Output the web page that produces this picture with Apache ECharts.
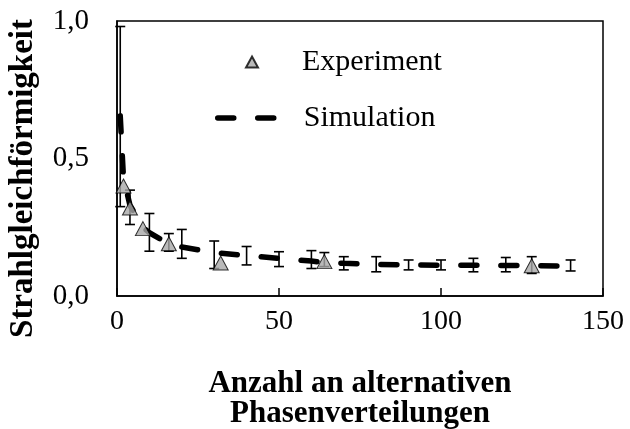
<!DOCTYPE html>
<html>
<head>
<meta charset="utf-8">
<script src="https://cdn.jsdelivr.net/npm/echarts@6/dist/echarts.min.js"></script>
<style>
  html, body { margin: 0; padding: 0; background: #fff; }
  #main { width: 630px; height: 429px; }
</style>
</head>
<body>
<div id="main"></div>
<script>
// experiment (triangles)
var expX = [2, 4, 8, 16, 32, 64, 128];
var expY = [0.40, 0.32, 0.245, 0.19, 0.12, 0.125, 0.11];

// simulation (dashed line)
var simX = [1, 2, 4, 8, 10, 16, 20, 30, 40, 50, 60, 64, 70, 80, 90, 100, 110, 120, 128, 140];
var simY = [0.655, 0.43, 0.33, 0.25, 0.23, 0.19, 0.178, 0.158, 0.147, 0.137, 0.127, 0.122, 0.119, 0.115, 0.113, 0.112, 0.112, 0.111, 0.11, 0.109];

// error bars
var errX = [1, 4, 10, 16, 20, 30, 40, 50, 60, 64, 70, 80, 90, 100, 110, 120, 128, 140];
var errLow = [0.325, 0.26, 0.163, 0.163, 0.137, 0.10, 0.113, 0.107, 0.10, 0.107, 0.095, 0.088, 0.095, 0.095, 0.088, 0.088, 0.082, 0.091];
var errHigh = [0.98, 0.385, 0.30, 0.227, 0.242, 0.20, 0.18, 0.161, 0.165, 0.158, 0.143, 0.143, 0.131, 0.131, 0.137, 0.14, 0.143, 0.131];

var xTicks = [0, 50, 100, 150];
var yTicks = [0, 0.5, 1.0];

var font = "Liberation Serif";

var myChart = echarts.init(document.getElementById("main"));

var option = {
  backgroundColor: "#fff",
  animation: false,
  textStyle: { fontFamily: font, color: "#000" },
  grid: {
    left: 117,
    right: 27,
    top: 21,
    bottom: 133,
    outerBoundsMode: "none",
    containLabel: false,
    show: true,
    borderColor: "#000",
    borderWidth: 1.5,
  },
  legend: [
    {
      data: [{ name: "Experiment", icon: "triangle" }],
      left: 245,
      top: 47,
      padding: 0,
      itemWidth: 12,
      itemHeight: 11,
      selectedMode: false,
      textStyle: { fontFamily: font, fontSize: 30, color: "#000", padding: [0, 0, 0, 39] },
    },
    {
      data: ["Simulation"],
      left: 215,
      top: 103,
      padding: 0,
      itemWidth: 63,
      itemHeight: 14,
      selectedMode: false,
      itemStyle: { opacity: 0 },
      lineStyle: { width: 5.5, type: [16, 24], cap: "round", color: "#000" },
      textStyle: { fontFamily: font, fontSize: 30, color: "#000", padding: [0, 0, 0, 18] },
    },
  ],
  xAxis: {
    type: "value",
    min: xTicks[0],
    max: xTicks[xTicks.length - 1],
    interval: 50,
    name: "Anzahl an alternativen\nPhasenverteilungen",
    nameLocation: "middle",
    nameGap: 73,
    nameTextStyle: { fontFamily: font, fontSize: 31, fontWeight: "bold", color: "#000", lineHeight: 30 },
    axisLine: { lineStyle: { color: "#000", width: 1.5 } },
    axisTick: { inside: true, length: 8, lineStyle: { color: "#000", width: 1.5 } },
    axisLabel: { fontFamily: font, fontSize: 28, color: "#000", margin: 12 },
    splitLine: { show: false },
  },
  yAxis: {
    type: "value",
    min: yTicks[0],
    max: yTicks[yTicks.length - 1],
    interval: 0.5,
    name: "Strahlgleichförmigkeit",
    nameLocation: "middle",
    nameRotate: 90,
    nameGap: 77,
    nameTextStyle: { fontFamily: font, fontSize: 33, fontWeight: "bold", color: "#000", padding: [0, 40, 0, 0] },
    axisLine: { show: true, lineStyle: { color: "#000", width: 1.5 } },
    axisTick: { show: false },
    axisLabel: {
      fontFamily: font,
      fontSize: 29,
      color: "#000",
      margin: 28,
      padding: [6, 0, 0, 0],
      formatter: function (v) {
        return v.toFixed(1).replace(".", ",");
      },
    },
    splitLine: { show: false },
  },
  series: [
    {
      type: "custom",
      z: 2,
      silent: true,
      data: errX.map(function (x, i) {
        return [x, errLow[i], errHigh[i]];
      }),
      encode: { x: 0, y: [1, 2] },
      renderItem: function (params, api) {
        var lo = api.coord([api.value(0), api.value(1)]);
        var hi = api.coord([api.value(0), api.value(2)]);
        var w = 5;
        var st = { stroke: "#000", lineWidth: 1.6 };
        return {
          type: "group",
          children: [
            { type: "line", shape: { x1: lo[0], y1: lo[1], x2: hi[0], y2: hi[1] }, style: st },
            { type: "line", shape: { x1: lo[0] - w, y1: lo[1], x2: lo[0] + w, y2: lo[1] }, style: st },
            { type: "line", shape: { x1: hi[0] - w, y1: hi[1], x2: hi[0] + w, y2: hi[1] }, style: st },
          ],
        };
      },
    },
    {
      name: "Simulation",
      type: "line",
      z: 3,
      symbol: "none",
      data: simX.map(function (x, i) {
        return [x, simY[i]];
      }),
      lineStyle: { color: "#000", width: 5.5, type: [16, 24], cap: "round" },
      itemStyle: { color: "#000" },
    },
    {
      name: "Experiment",
      type: "scatter",
      z: 4,
      symbol: "triangle",
      symbolSize: [15, 14],
      data: expX.map(function (x, i) {
        return [x, expY[i]];
      }),
      itemStyle: { color: "#a8a8a8", borderColor: "#000", borderWidth: 1 },
    },
  ],
};

myChart.setOption(option);
</script>
</body>
</html>
